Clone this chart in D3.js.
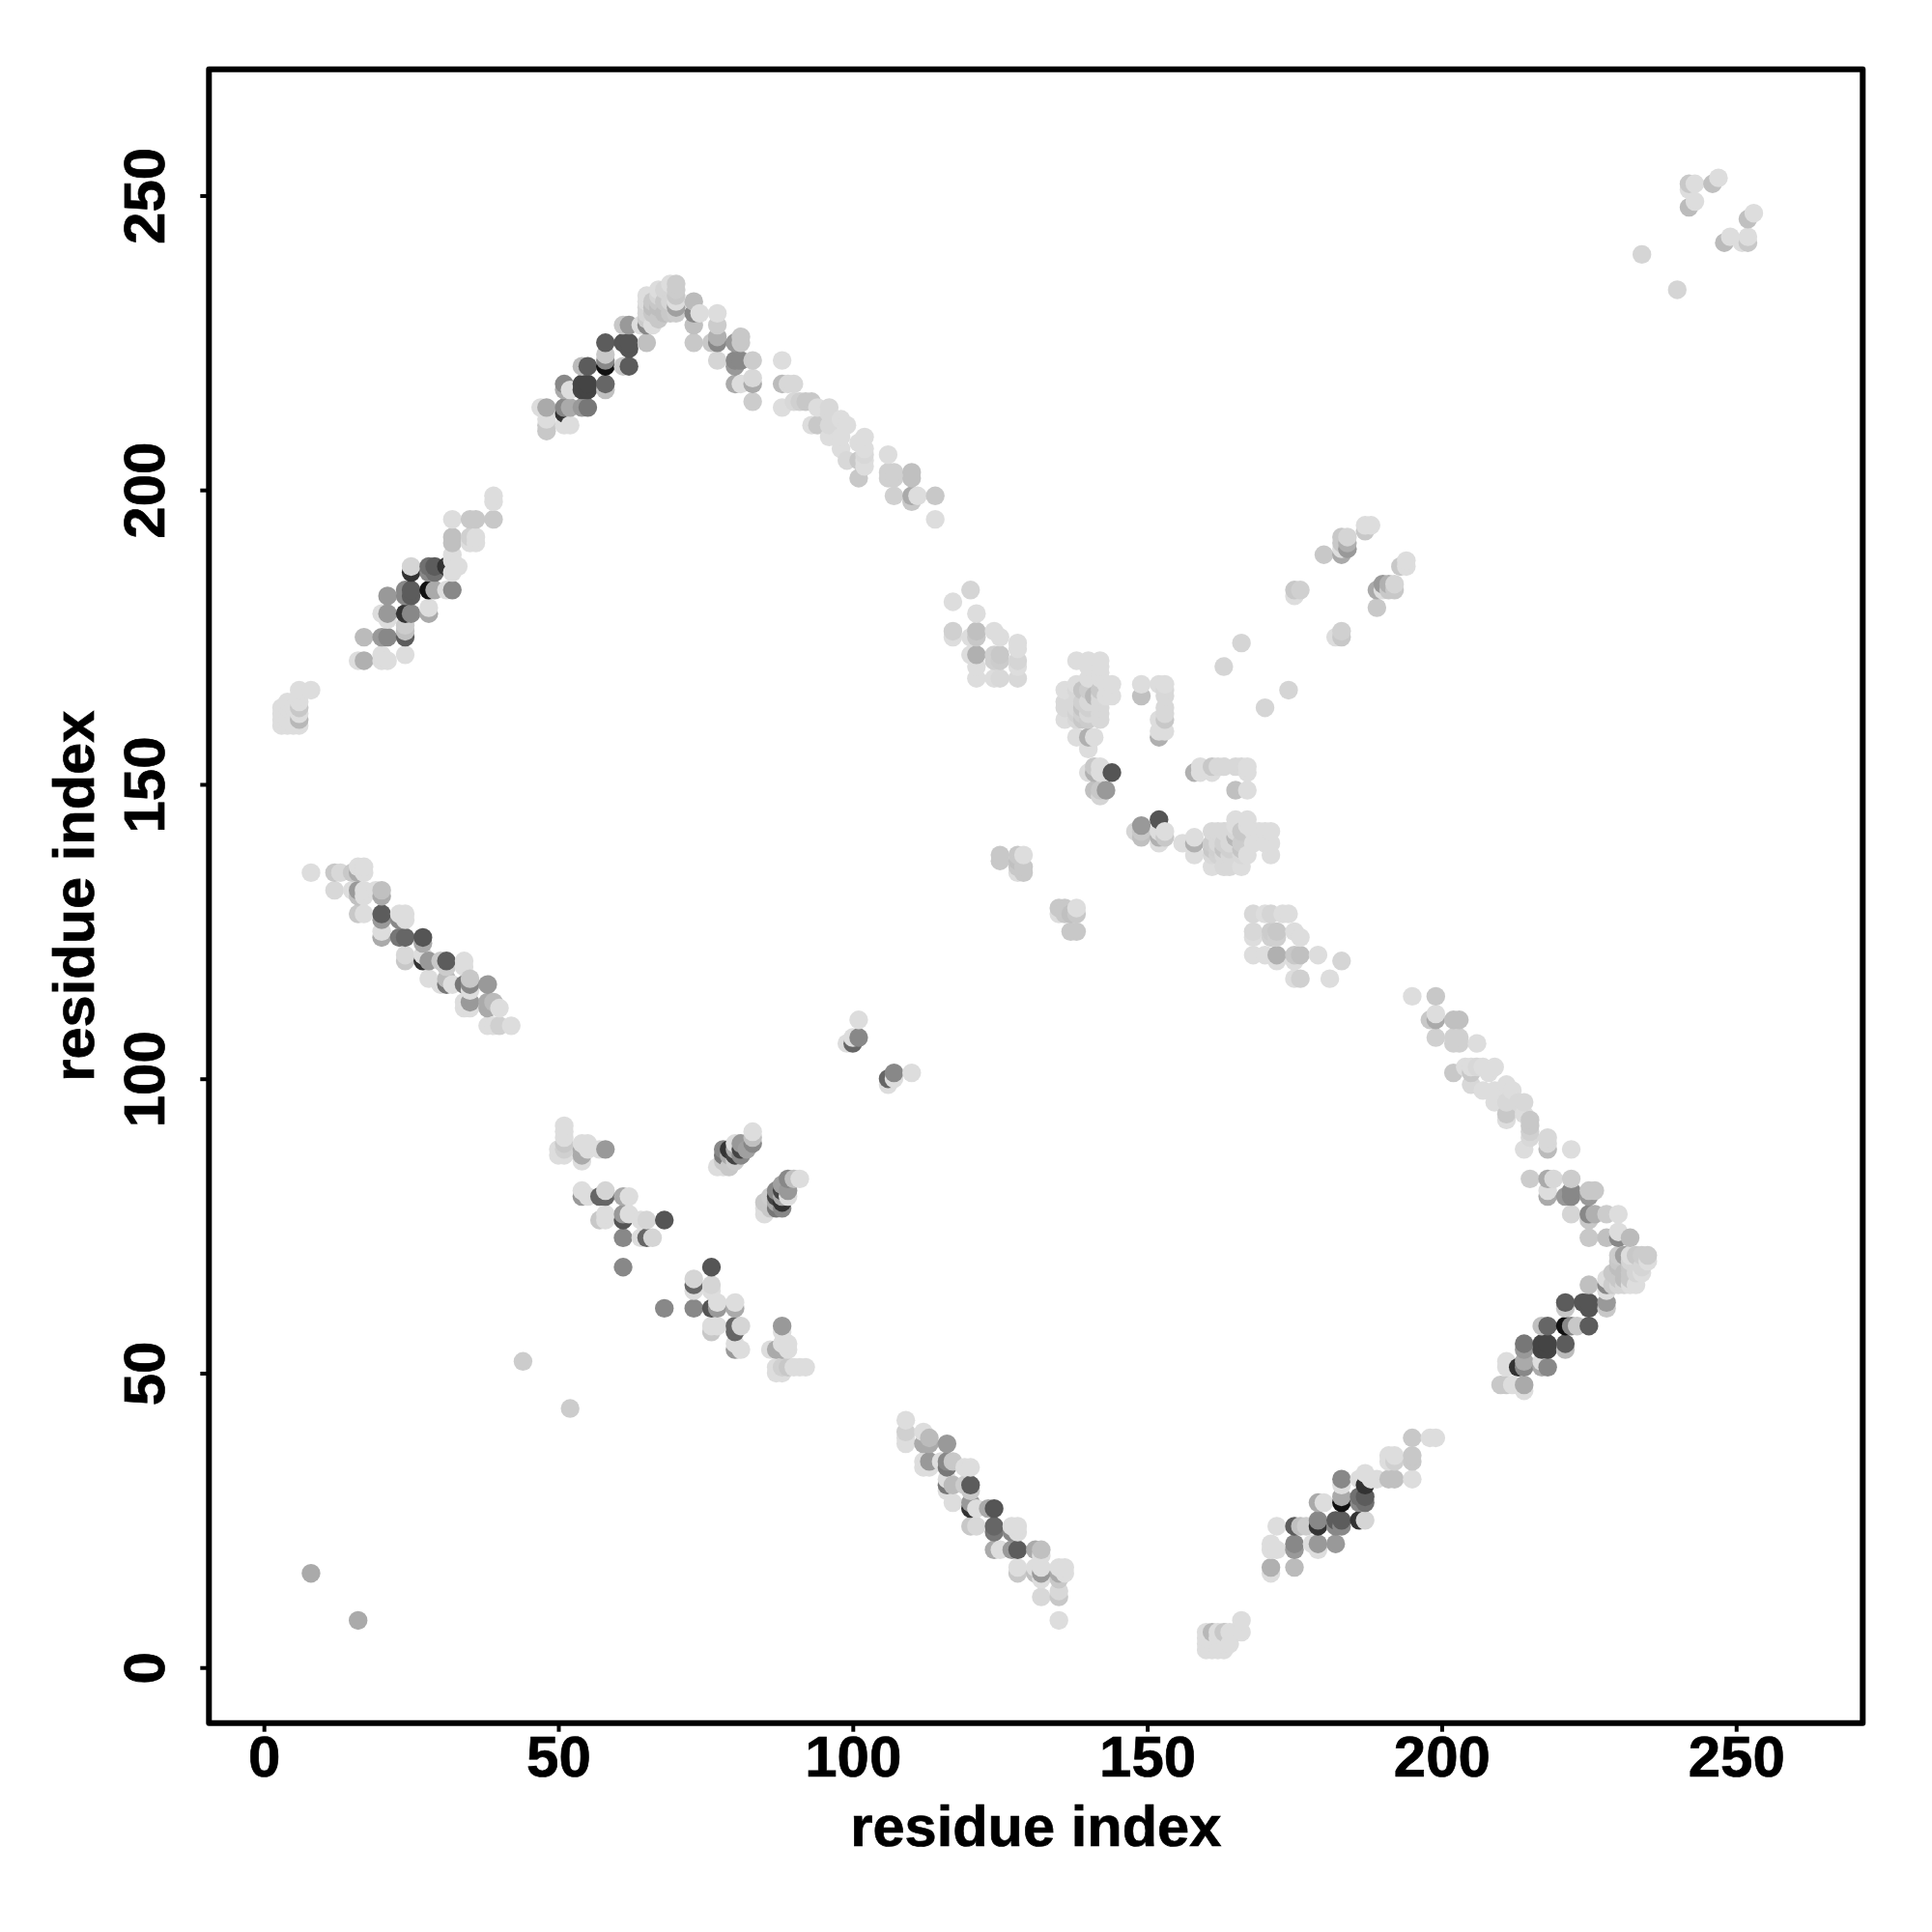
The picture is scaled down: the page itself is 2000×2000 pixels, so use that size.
<!DOCTYPE html>
<html>
<head>
<meta charset="utf-8">
<script src="https://cdn.jsdelivr.net/npm/d3@7/dist/d3.min.js"></script>
<style>
  html, body { margin: 0; padding: 0; background: #ffffff; }
  svg { display: block; }
</style>
</head>
<body>
<svg id="chart"></svg>
<script>
const nTermContacts = [
    [3,160,221],[3,161,221],[3,162,221],[3,163,221],[4,160,221],[4,161,221],[4,163,221],[4,164,221],
    [5,160,221],[5,162,221],[5,163,221],[6,160,221],[6,161,184],[6,162,221],[6,163,200],[6,164,221],
    [6,165,221],[6,166,221],[8,166,221]
];
const helixContacts = [
    [16,171,221],[17,171,176],[17,175,187],[20,171,221],[20,172,221],[20,175,153],[21,171,221],[21,175,136],
    [20,179,221],[21,178,221],[21,179,153],[21,182,153],[24,172,221],[24,175,92],[24,176,192],[24,177,204],
    [24,179,51],[24,183,136],[24,182,136],[25,179,136],[25,182,92],[25,183,92],[25,186,51],[25,187,213],
    [28,179,170],[28,180,221],[28,183,17],[28,186,136],[28,187,112],[29,183,170],[29,186,112],[29,187,92],
    [31,183,221],[31,187,51],[32,183,136],[32,186,221],[32,188,221],[32,189,221],[32,191,192],[32,192,192],
    [32,195,221],[33,187,221],[35,191,221],[35,192,208],[35,195,200],[36,191,221],[36,192,221],[36,195,200],
    [39,195,200],[39,198,221],[39,199,221]
];
const sheetContacts = [
    [8,135,221],[12,132,216],[12,135,200],[13,135,216],[15,132,221],[15,135,200],[16,128,200],[16,131,192],
    [16,132,153],[16,135,170],[16,136,221],[17,128,221],[17,131,221],[17,132,221],[17,135,221],[17,136,221],
    [19,132,221],[20,124,170],[20,125,221],[20,127,153],[20,128,92],[20,131,170],[20,132,192],[23,124,119],
    [23,127,136],[23,128,221],[24,120,200],[24,121,216],[24,124,102],[24,127,221],[24,128,221],[27,120,51],
    [27,121,221],[27,123,170],[27,124,85],[28,117,221],[28,120,153],[30,116,221],[30,120,200],[31,116,119],
    [31,117,187],[31,119,204],[31,120,92],[32,116,221],[34,112,221],[34,113,221],[34,116,119],[34,119,221],
    [34,120,221],[35,112,221],[35,113,153],[35,115,221],[35,116,136],[35,117,200],[38,109,221],[38,112,170],
    [38,113,170],[38,116,153],[39,109,221],[39,113,187],[40,109,208],[40,112,221],[42,109,221]
];
const midContacts = [
    [50,87,221],[50,88,221],[51,87,221],[51,88,208],[51,89,200],[51,90,221],[51,91,221],[51,92,221],
    [54,80,153],[54,81,221],[54,86,221],[54,87,170],[54,88,170],[54,89,221],[55,80,221],[55,88,221],
    [55,89,221],[57,76,200],[57,80,102],[57,88,221],[58,76,221],[58,77,221],[58,80,102],[58,81,213],
    [58,88,153],[61,68,136],[61,73,136],[61,76,85],[61,77,153],[61,80,170],[62,77,221],[62,80,221],
    [64,73,221],[64,76,221],[65,73,102],[65,76,213],[66,73,213],[68,76,85]
];
const hairpinContacts = [
    [77,85,221],[78,85,221],[78,86,200],[78,87,119],[78,88,136],[79,85,200],[79,87,170],[79,88,51],
    [80,86,204],[80,87,68],[80,88,170],[80,89,221],[81,87,136],[81,88,68],[81,89,153],[82,88,160],
    [83,89,136],[83,90,192],[83,91,221],[99,106,221],[100,106,102],[100,107,221],[101,107,136],[101,110,221]
];
const longArcContacts = [
    [47,214,221],[48,210,200],[48,211,200],[48,212,221],[48,214,170],[51,211,221],[51,213,51],[51,214,136],
    [51,217,170],[51,218,136],[52,211,221],[52,214,170],[52,217,221],[54,214,153],[54,218,68],[54,217,68],
    [54,221,187],[55,214,119],[55,217,68],[55,218,68],[55,221,92],[58,217,192],[58,218,102],[58,221,17],
    [58,222,136],[58,223,200],[58,225,92],[61,221,200],[61,225,85],[61,228,200],[62,221,92],[62,224,85],
    [62,225,85],[62,228,153],[64,228,221],[65,225,192],[65,228,136],[65,229,204],[65,230,213],[65,231,213],
    [65,232,221],[65,233,221],[66,228,221],[66,230,200],[66,231,190],[66,232,200],[67,229,200],[67,231,190],
    [67,232,200],[67,233,213],[67,234,221],[68,230,190],[68,232,200],[68,234,213],[69,230,200],[69,232,213],
    [69,235,221],[70,230,204],[70,231,160],[70,232,221],[70,233,200],[70,234,204],[70,235,204],[73,225,200],
    [73,228,192],[73,230,136],[73,232,187],[74,230,221],[76,225,200],[77,222,213],[77,225,136],[77,226,176],
    [77,228,204],[77,230,221],[80,218,170],[80,221,153],[80,222,136],[80,225,153],[81,218,221],[81,222,136],
    [81,225,200],[81,226,200],[83,215,204],[83,218,170],[83,219,216],[83,222,204],[88,214,221],[88,218,187],
    [88,222,221],[89,218,216],[90,215,216],[90,218,216],[91,215,208],[92,215,200],[93,211,221],[93,215,200],
    [94,211,200],[94,214,221],[96,209,221],[96,211,216],[96,213,216],[96,214,216],[98,207,221],[98,209,221],
    [98,212,221],[99,205,216],[99,211,221],[101,202,200],[101,205,200],[101,208,221],[102,204,221],[102,205,221],
    [102,206,216],[102,207,221],[102,209,221],[106,202,208],[106,203,208],[106,206,221],[107,199,208],[107,202,208],
    [107,203,208],[110,198,200],[110,199,170],[110,202,192],[110,203,192],[111,199,221],[114,195,221],[114,199,200]
];
const loopContacts = [
    [117,175,221],[117,176,208],[117,181,221],[120,172,221],[120,175,221],[120,183,213],[121,168,221],[121,170,221],
    [121,172,176],[121,175,200],[121,176,192],[121,179,221],[124,168,221],[124,171,208],[124,172,208],[124,176,221],
    [125,137,200],[125,138,200],[125,168,216],[125,171,204],[125,172,200],[125,175,221],[128,135,221],[128,136,200],
    [128,137,192],[128,138,200],[128,168,216],[128,170,221],[128,171,213],[128,173,221],[128,174,221],[129,135,200],
    [129,136,200],[129,138,221]
];
const domainContacts = [
    [136,161,221],[136,163,216],[136,164,216],[136,166,221],[138,158,221],[138,161,216],[138,162,210],[138,163,216],
    [138,164,216],[138,166,216],[138,167,221],[138,171,221],[139,161,200],[139,162,208],[139,163,196],[139,164,208],
    [139,166,196],[140,152,221],[140,156,221],[140,158,176],[140,161,204],[140,162,216],[140,163,208],[140,164,216],
    [140,166,204],[140,168,221],[140,170,221],[140,171,221],[141,149,192],[141,152,176],[141,153,200],[141,158,221],
    [141,165,184],[142,148,213],[142,149,200],[142,152,221],[142,153,221],[142,161,216],[142,162,216],[142,163,216],
    [142,164,216],[142,165,216],[142,166,200],[142,168,221],[142,169,221],[142,170,221],[142,171,221],[143,149,153],
    [143,165,221],[143,167,221],[144,152,85],[144,165,221],[144,167,221],[149,165,192],[149,167,221],[152,158,176],
    [152,159,221],[152,161,221],[152,167,221],[153,159,221],[153,161,200],[153,162,216],[153,163,216],[153,165,216],
    [153,166,216],[153,167,221]
];
const outerContacts = [
    [163,170,213],[166,174,213],[175,182,221],[175,183,200],[176,183,208],[180,189,200],[183,189,170],[183,190,221],
    [183,191,200],[183,192,200],[184,190,153],[184,191,176],[184,192,213],[187,193,200],[187,194,221],[188,194,221]
];
const isolatedContacts = [
    [8,16,170],[44,52,204],[234,240,213],[242,248,187],[242,251,221],[242,252,200],
    [243,249,221],[243,252,221],[246,252,192],[247,253,221]
];

const tickValues = [0, 50, 100, 150, 200, 250];
const axisTitle = 'residue index';

const WIDTH = 2000, HEIGHT = 2000;
const FRAME = {left: 216.3, right: 1928.3, top: 71.7, bottom: 1783.7};
const FONT = '"Liberation Sans", Arial, sans-serif';

const svg = d3.select('#chart').attr('width', WIDTH).attr('height', HEIGHT);

// frame runs a bit past 0 and 250 on both axes, like R's default margins
const x = d3.scaleLinear().domain([-9.33, 271.5]).range([FRAME.left, FRAME.right]);
const y = d3.scaleLinear().domain([-9.43, 271.45]).range([FRAME.bottom, FRAME.top]);

const halfMap = [].concat(nTermContacts, helixContacts, sheetContacts, midContacts, hairpinContacts,
    longArcContacts, loopContacts, domainContacts, outerContacts, isolatedContacts);

// the map is symmetric, later residues paint over earlier ones
const points = halfMap
    .flatMap(([i, j, grey]) => [{x: i, y: j, grey}, {x: j, y: i, grey}])
    .sort((a, b) => d3.ascending(a.x, b.x) || d3.ascending(a.y, b.y));

svg.append('g')
    .selectAll('circle')
    .data(points)
    .join('circle')
    .attr('cx', d => x(d.x))
    .attr('cy', d => y(d.y))
    .attr('r', 9.7)
    .attr('fill', d => d3.rgb(d.grey, d.grey, d.grey));

// Axes
const xAxis = svg.append('g')
    .attr('transform', `translate(0, ${FRAME.bottom})`)
    .call(d3.axisBottom(x).tickValues(tickValues).tickSize(9).tickPadding(3));

const yAxis = svg.append('g')
    .attr('transform', `translate(${FRAME.left}, 0)`)
    .call(d3.axisLeft(y).tickValues(tickValues).tickSize(9));

[xAxis, yAxis].forEach(axis => {
    axis.select('.domain').remove();
    axis.selectAll('line').attr('stroke', '#000000').attr('stroke-width', 4);
    axis.selectAll('text')
        .attr('fill', '#000000')
        .attr('stroke', '#000000')
        .attr('stroke-width', 0.7)
        .attr('font-family', FONT)
        .attr('font-weight', 'bold')
        .attr('font-size', '60px');
});

xAxis.selectAll('text').attr('dy', '0.72em');

yAxis.selectAll('text')
    .attr('x', null)
    .attr('dy', null)
    .attr('text-anchor', 'middle')
    .attr('transform', 'translate(-46, 0) rotate(-90)');

svg.append('rect')
    .attr('x', FRAME.left)
    .attr('y', FRAME.top)
    .attr('width', FRAME.right - FRAME.left)
    .attr('height', FRAME.bottom - FRAME.top)
    .attr('fill', 'none')
    .attr('stroke', '#000000')
    .attr('stroke-width', 6)
    .attr('stroke-linejoin', 'round');

// Axis titles
svg.append('text')
    .attr('x', (FRAME.left + FRAME.right) / 2)
    .attr('y', 1911)
    .attr('text-anchor', 'middle')
    .attr('stroke', '#000000')
    .attr('stroke-width', 0.7)
    .attr('font-family', FONT)
    .attr('font-weight', 'bold')
    .attr('font-size', '59.6px')
    .text(axisTitle);

svg.append('text')
    .attr('transform', `translate(97, ${(FRAME.top + FRAME.bottom) / 2}) rotate(-90)`)
    .attr('text-anchor', 'middle')
    .attr('stroke', '#000000')
    .attr('stroke-width', 0.7)
    .attr('font-family', FONT)
    .attr('font-weight', 'bold')
    .attr('font-size', '59.6px')
    .text(axisTitle);
</script>
</body>
</html>
